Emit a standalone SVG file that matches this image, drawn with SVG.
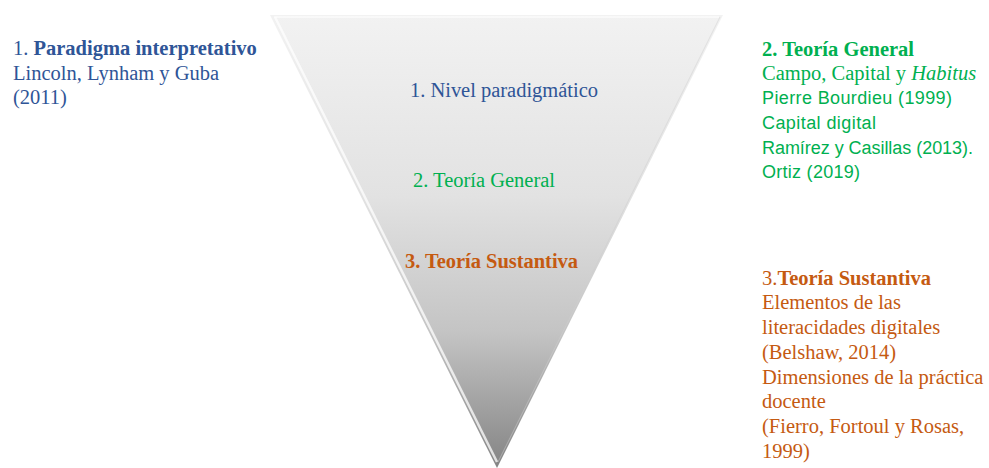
<svg xmlns="http://www.w3.org/2000/svg" width="989" height="468" viewBox="0 0 989 468">
<style>
.serif{font-family:"Liberation Serif","Times New Roman",serif;font-size:20.5px}
.sans{font-family:"Liberation Sans",Arial,sans-serif;font-size:18px}
.blue{fill:#2F5597}
.green{fill:#00B050}
.orange{fill:#C55A11}
.b{font-weight:bold}
</style>
<defs>
<linearGradient id="tri" x1="0" y1="0" x2="0" y2="1">
<stop offset="0" stop-color="#f2f2f2"/>
<stop offset="0.4" stop-color="#e2e2e2"/>
<stop offset="0.7" stop-color="#c4c4c4"/>
<stop offset="1" stop-color="#848484"/>
</linearGradient>
</defs>
<rect width="989" height="468" fill="#ffffff"/>
<g id="funnel">
<polygon points="270,15 723,15 497,468" fill="url(#tri)"/>
<polyline points="274,17 719,17" fill="none" stroke="#fafafa" stroke-width="2" opacity="0.8"/>
<line x1="275" y1="17" x2="497" y2="462" stroke="#ffffff" stroke-width="2.5" opacity="0.75"/>
<line x1="720" y1="17" x2="498" y2="462" stroke="#d0d0d0" stroke-width="1" opacity="0.5"/>
</g>
<g id="level1">
<text class="serif blue" x="410" y="97" textLength="188">1. Nivel paradigmático</text>
</g>
<g id="level2">
<text class="serif green" x="413" y="187" textLength="142">2. Teoría General</text>
</g>
<g id="level3">
<text class="serif orange b" x="405" y="268" textLength="173">3. Teoría Sustantiva</text>
</g>
<g id="left-note">
<text class="serif blue" x="13" y="55">1. <tspan class="b">Paradigma interpretativo</tspan></text>
<text class="serif blue" x="13" y="80">Lincoln, Lynham y Guba</text>
<text class="serif blue" x="13" y="104">(2011)</text>
</g>
<g id="right-note-general">
<text class="serif green b" x="762" y="56">2. Teoría General</text>
<text class="serif green" x="762" y="80">Campo, Capital y <tspan font-style="italic">Habitus</tspan></text>
<text class="sans green" x="762" y="104" textLength="190">Pierre Bourdieu (1999)</text>
<text class="sans green" x="762" y="129" textLength="114">Capital digital</text>
<text class="sans green" x="762" y="154" textLength="211">Ramírez y Casillas (2013).</text>
<text class="sans green" x="762" y="178" textLength="98">Ortiz (2019)</text>
</g>
<g id="right-note-sustantiva">
<text class="serif orange" x="762" y="285">3.<tspan class="b">Teoría Sustantiva</tspan></text>
<text class="serif orange" x="762" y="309">Elementos de las</text>
<text class="serif orange" x="762" y="334">literacidades digitales</text>
<text class="serif orange" x="762" y="359">(Belshaw, 2014)</text>
<text class="serif orange" x="762" y="384">Dimensiones de la práctica</text>
<text class="serif orange" x="762" y="408">docente</text>
<text class="serif orange" x="762" y="433">(Fierro, Fortoul y Rosas,</text>
<text class="serif orange" x="762" y="458">1999)</text>
</g>
<g id="connectors"></g>
</svg>
